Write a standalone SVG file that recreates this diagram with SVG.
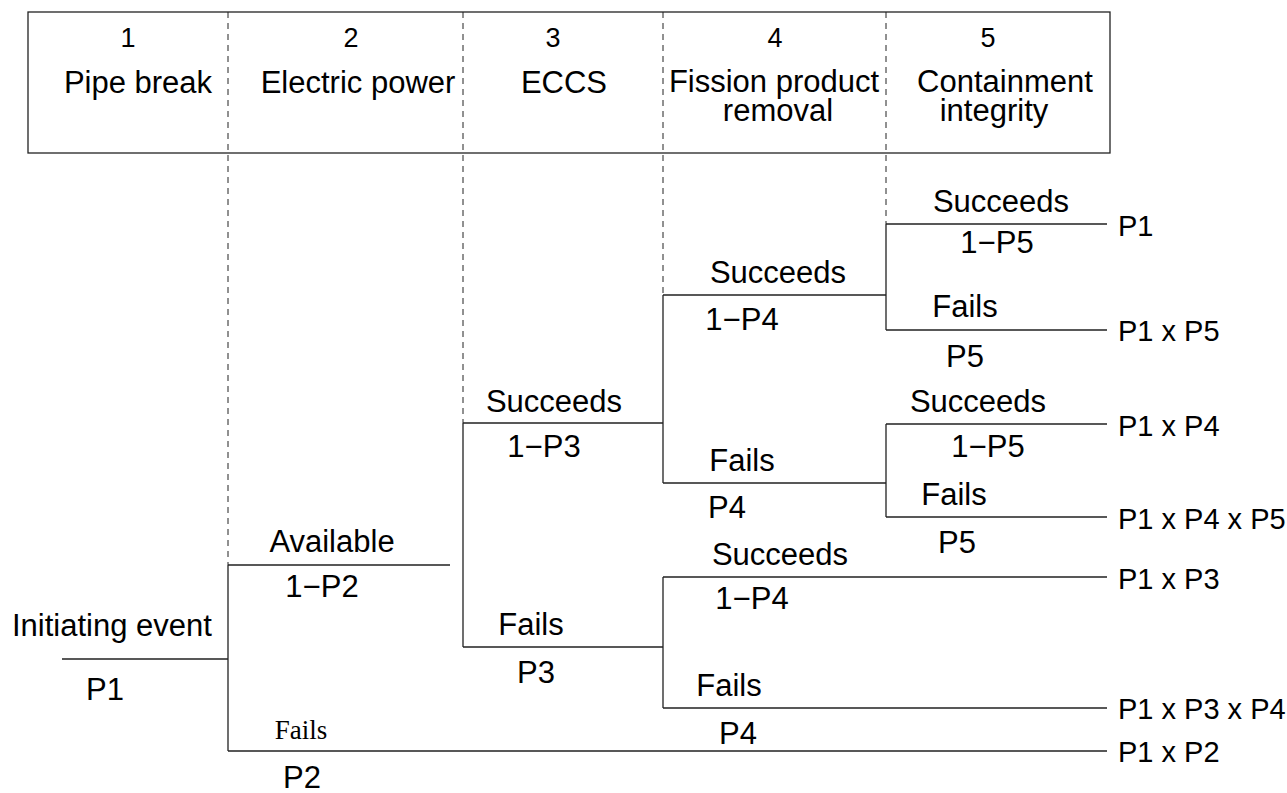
<svg xmlns="http://www.w3.org/2000/svg" width="1287" height="793" viewBox="0 0 1287 793">
  <style>
    .t { font-family: "Liberation Sans", Arial, Helvetica, sans-serif; font-size: 31px; fill: #000; }
    .n { font-family: "Liberation Sans", Arial, Helvetica, sans-serif; font-size: 27px; fill: #000; text-anchor: middle; }
    .o { font-family: "Liberation Sans", Arial, Helvetica, sans-serif; font-size: 29px; fill: #000; }
    .m { text-anchor: middle; }
    .serif { font-family: "Liberation Serif", "Times New Roman", serif; font-size: 27px; fill: #000; text-anchor: middle; }
    .ln { stroke: #222; stroke-width: 1.3; fill: none; }
    .dash { stroke: #222; stroke-width: 1; stroke-dasharray: 6 5; fill: none; }
  </style>
  <rect width="1287" height="793" fill="#fff"/>

  <!-- column header -->
  <g id="header">
    <rect x="28" y="12" width="1082" height="141" class="ln"/>
    <text class="n" x="128" y="47">1</text>
    <text class="t m" x="138" y="93">Pipe break</text>
    <text class="n" x="351" y="47">2</text>
    <text class="t m" x="358" y="93">Electric power</text>
    <text class="n" x="553" y="47">3</text>
    <text class="t m" x="564" y="93">ECCS</text>
    <text class="n" x="775" y="47">4</text>
    <text class="t m" x="774" y="92">Fission product</text>
    <text class="t m" x="778" y="121">removal</text>
    <text class="n" x="988" y="47">5</text>
    <text class="t m" x="1005" y="92">Containment</text>
    <text class="t m" x="994" y="121">integrity</text>
  </g>

  <!-- column separators -->
  <g id="separators">
    <line class="dash" x1="228" y1="12" x2="228" y2="565"/>
    <line class="dash" x1="463" y1="12" x2="463" y2="423"/>
    <line class="dash" x1="663" y1="12" x2="663" y2="295"/>
    <line class="dash" x1="886" y1="12" x2="886" y2="224"/>
  </g>

  <!-- branches of the event tree -->
  <g id="connectors">
    <path class="ln" d="M62 659 H228 M228 565 V751 M228 565 H450 M228 751 H1107"/>
    <path class="ln" d="M463 423 V647 M463 423 H663 M463 647 H663"/>
    <path class="ln" d="M663 295 V483 M663 295 H886 M663 483 H886"/>
    <path class="ln" d="M886 224 V330 M886 224 H1107 M886 330 H1107"/>
    <path class="ln" d="M886 424 V517 M886 424 H1107 M886 517 H1107"/>
    <path class="ln" d="M663 577 V708 M663 577 H1107 M663 708 H1107"/>
  </g>

  <g id="initiating">
    <text class="t" x="12" y="636">Initiating event</text>
    <text class="t m" x="105" y="700">P1</text>
  </g>
  <g id="power">
    <text class="t m" x="332" y="552">Available</text>
    <text class="t m" x="322" y="597">1−P2</text>
    <text class="serif" x="301" y="739">Fails</text>
    <text class="t m" x="302" y="788">P2</text>
  </g>
  <g id="eccs">
    <text class="t m" x="554" y="412">Succeeds</text>
    <text class="t m" x="544" y="457">1−P3</text>
    <text class="t m" x="531" y="635">Fails</text>
    <text class="t m" x="536" y="683">P3</text>
  </g>
  <g id="fpr-upper">
    <text class="t m" x="778" y="283">Succeeds</text>
    <text class="t m" x="742" y="330">1−P4</text>
    <text class="t m" x="742" y="471">Fails</text>
    <text class="t m" x="727" y="518">P4</text>
  </g>
  <g id="fpr-lower">
    <text class="t m" x="780" y="565">Succeeds</text>
    <text class="t m" x="752" y="609">1−P4</text>
    <text class="t m" x="729" y="696">Fails</text>
    <text class="t m" x="738" y="744">P4</text>
  </g>
  <g id="ci-upper">
    <text class="t m" x="1001" y="212">Succeeds</text>
    <text class="t m" x="997" y="253">1−P5</text>
    <text class="t m" x="965" y="317">Fails</text>
    <text class="t m" x="965" y="367">P5</text>
  </g>
  <g id="ci-lower">
    <text class="t m" x="978" y="412">Succeeds</text>
    <text class="t m" x="988" y="457">1−P5</text>
    <text class="t m" x="954" y="505">Fails</text>
    <text class="t m" x="957" y="553">P5</text>
  </g>
  <g id="outcomes">
    <text class="o" x="1118" y="236">P1</text>
    <text class="o" x="1118" y="341">P1 x P5</text>
    <text class="o" x="1118" y="436">P1 x P4</text>
    <text class="o" x="1118" y="529">P1 x P4 x P5</text>
    <text class="o" x="1118" y="589">P1 x P3</text>
    <text class="o" x="1118" y="719">P1 x P3 x P4</text>
    <text class="o" x="1118" y="762">P1 x P2</text>
  </g>
</svg>
